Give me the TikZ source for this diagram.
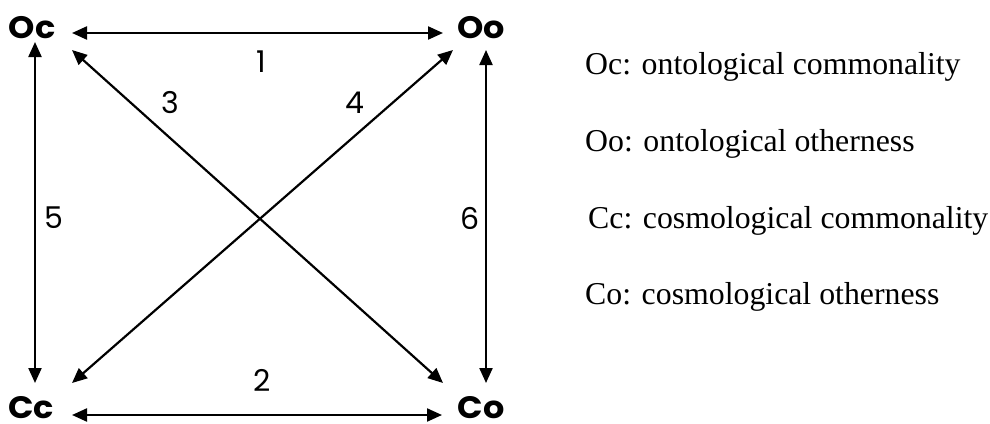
\documentclass[tikz,border=0pt]{standalone}
\usepackage{fontspec}
\setmainfont{Liberation Serif}
\newfontfamily\geofont{Poppins}
\newfontfamily\geowide[FakeStretch=1.08]{Poppins}
\usetikzlibrary{arrows.meta,calc}
\begin{document}
\begin{tikzpicture}[x=1pt,y=-1pt,
  lbl/.style={inner sep=0pt, anchor=base, font=\geowide\bfseries\fontsize{31}{36}\selectfont},
  num/.style={inner sep=0pt, font=\geofont\fontsize{30}{36}\selectfont},
  key/.style={inner sep=0pt, anchor=base west, font=\fontsize{31.8}{38}\selectfont},
  link/.style={{Triangle[length=15pt,width=13pt]}-{Triangle[length=15pt,width=13pt]}, line width=2.2pt}]
\useasboundingbox (0,0) rectangle (990,423);
\node[lbl] (Oc) at (32,38) {Oc};
\node[lbl] (Oo) at (481,38) {Oo};
\node[lbl] (Cc) at (31,418) {Cc};
\node[lbl] (Co) at (481,418) {Co};
\draw[link] ($(Oc.base)+(40,-5)$) -- ($(Oo.base)+(-38,-5)$);
\draw[link] ($(Cc.base)+(41,-3)$) -- ($(Co.base)+(-39,-3)$);
\draw[link] ($(Oc.base)+(3,4)$) -- ($(Cc.base)+(4,-35)$);
\draw[link] ($(Oo.base)+(5,12)$) -- ($(Co.base)+(5,-35)$);
\draw[link] ($(Oc.base)+(40,12)$) -- ($(Co.base)+(-38,-35)$);
\draw[link] ($(Oo.base)+(-28,12)$) -- ($(Cc.base)+(41,-35)$);
\node[num] (n1) at (261,62) {1};
\node[num] (n2) at (262,380) {2};
\node[num] (n3) at (170,103) {3};
\node[num] (n4) at (355,103) {4};
\node[num] (n5) at (54,218) {5};
\node[num] (n6) at (470,218) {6};
\node[key] (kOc) at (585,74) {Oc: ontological commonality};
\node[key] (kOo) at (585,151) {Oo: ontological otherness};
\node[key] (kCc) at (588,228) {Cc: cosmological commonality};
\node[key] (kCo) at (585,304) {Co: cosmological otherness};
\end{tikzpicture}
\end{document}
